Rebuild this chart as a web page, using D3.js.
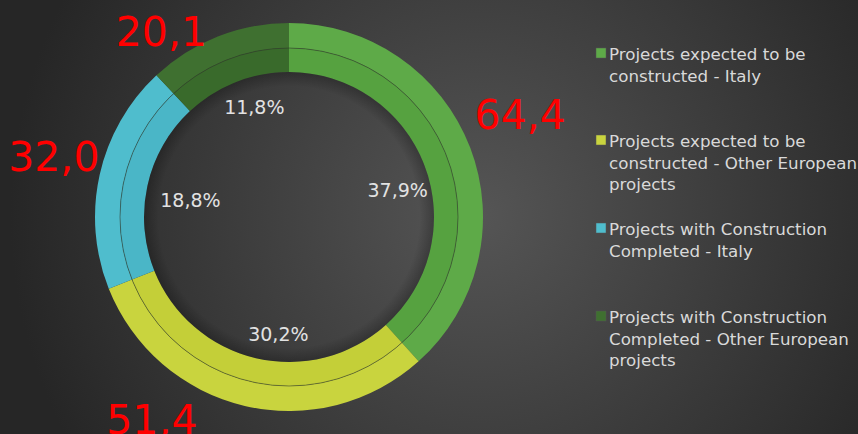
<!DOCTYPE html>
<html><head><meta charset="utf-8">
<script src="https://cdn.jsdelivr.net/npm/d3@7"></script>
<style>html,body{margin:0;padding:0;background:#2b2b2b;}svg{display:block;}</style>
</head><body>
<svg id="chart" width="858" height="434"></svg>
<script>
const categories = [
  "Projects expected to be constructed - Italy",
  "Projects expected to be constructed - Other European projects",
  "Projects with Construction Completed - Italy",
  "Projects with Construction Completed - Other European projects"
];
const legendLines = [
  ["Projects expected to be", "constructed - Italy"],
  ["Projects expected to be", "constructed - Other European", "projects"],
  ["Projects with Construction", "Completed - Italy"],
  ["Projects with Construction", "Completed - Other European", "projects"]
];
const values = [64.4, 51.4, 32.0, 20.1];
const valueLabels = ["64,4", "51,4", "32,0", "20,1"];
const percentLabels = ["37,9%", "30,2%", "18,8%", "11,8%"];
const colorsOuter = ["#5eaa48", "#c9d43e", "#4fbdcd", "#3f7030"];
const colorsInner = ["#56a240", "#c4cf38", "#4ab6c7", "#396a2b"];

const W = 858, H = 434;
const svg = d3.select("#chart");
const defs = svg.append("defs");
const bg = defs.append("radialGradient").attr("id","bg")
  .attr("cx", 480).attr("cy", 215).attr("r", 470).attr("gradientUnits","userSpaceOnUse");
bg.append("stop").attr("offset","0%").attr("stop-color","#555555");
bg.append("stop").attr("offset","100%").attr("stop-color","#262626");
svg.append("rect").attr("width",W).attr("height",H).attr("fill","url(#bg)");

const cx = 289, cy = 217;
const rIn = 145, rMid = 169, rOut = 194;

const pie = d3.pie().sort(null).value(d => d)(values);
const g = svg.append("g").attr("transform", `translate(${cx},${cy})`);

const arcOuter = d3.arc().innerRadius(rMid).outerRadius(rOut);
const arcInner = d3.arc().innerRadius(rIn).outerRadius(rMid);

g.selectAll("path.outer").data(pie).join("path").attr("class","outer")
  .attr("d", arcOuter).attr("fill", (d,i) => colorsOuter[i]);
g.selectAll("path.inner").data(pie).join("path").attr("class","inner")
  .attr("d", arcInner).attr("fill", (d,i) => colorsInner[i]);
g.append("circle").attr("r", rMid).attr("fill","none")
  .attr("stroke","#2f3a2a").attr("stroke-opacity",0.7).attr("stroke-width",0.8);

// inner shadow inside hole
const sh = defs.append("radialGradient").attr("id","sh");
sh.append("stop").attr("offset","90%").attr("stop-color","#000").attr("stop-opacity",0);
sh.append("stop").attr("offset","100%").attr("stop-color","#000").attr("stop-opacity",0.25);
g.append("circle").attr("r", rIn).attr("fill","url(#sh)");

// label layout: polar placement (angle offset in degrees from slice middle, radius)
const pctLayout = [[7, 112], [-8, 118], [-3, 100], [4, 115]];
const valLayout = [[-3, 253], [21, 244], [2, 243], [-13, 225]];
function polar(d, layout) {
  const mid = (d.startAngle + d.endAngle) / 2 + layout[0] * Math.PI / 180;
  return [Math.sin(mid) * layout[1], -Math.cos(mid) * layout[1]];
}

g.selectAll("text.pct").data(pie).join("text").attr("class","pct")
  .attr("transform", (d,i) => { const c = polar(d, pctLayout[i]); return `translate(${c[0]},${c[1]})`; })
  .attr("text-anchor","middle").attr("dy","0.36em")
  .attr("font-family","DejaVu Sans, sans-serif").attr("font-size",19)
  .attr("fill","#e2e2e2")
  .text((d,i) => percentLabels[i]);

g.selectAll("text.val").data(pie).join("text").attr("class","val")
  .attr("transform", (d,i) => { const c = polar(d, valLayout[i]); return `translate(${c[0]},${c[1]})`; })
  .attr("text-anchor","middle").attr("dy","0.36em")
  .attr("font-family","DejaVu Sans, sans-serif").attr("font-size",41)
  .attr("fill","#ff0000")
  .text((d,i) => valueLabels[i]);

// legend
const legendY = [60, 147, 235, 323];
const lg = svg.append("g");
legendLines.forEach((lines, i) => {
  const item = lg.append("g").attr("transform", `translate(596,${legendY[i]})`);
  item.append("rect").attr("x",0).attr("y",-12).attr("width",10).attr("height",10)
    .attr("fill", colorsOuter[i]).attr("stroke","#555").attr("stroke-width",0.5);
  const t = item.append("text").attr("x",13).attr("y",0)
    .attr("font-family","DejaVu Sans, sans-serif").attr("font-size",16.7)
    .attr("fill","#d9d9d9");
  lines.forEach((ln, j) => {
    t.append("tspan").attr("x",13).attr("y", j*21.5).text(ln);
  });
});
</script>
</body></html>
